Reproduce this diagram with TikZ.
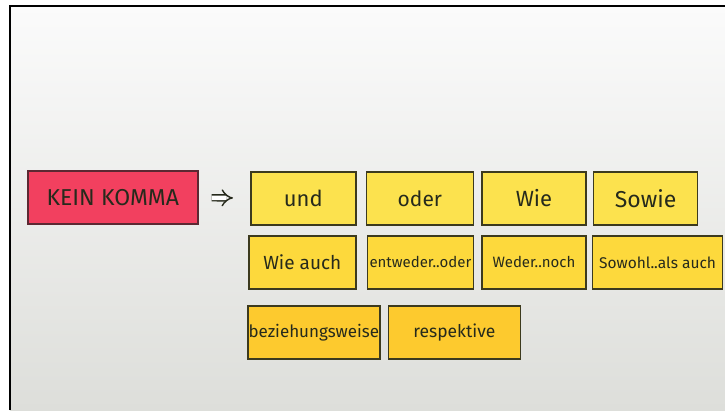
\documentclass[tikz,border=0pt]{standalone}
\usepackage{fontspec}
\setmainfont{Fira Sans}
\usepackage{xcolor}
\usetikzlibrary{positioning,arrows.meta}

\definecolor{boardtop}{HTML}{FBFBFB}
\definecolor{boardbottom}{HTML}{DDDEDA}
\definecolor{notered}{HTML}{F2405F}
\definecolor{noterededge}{HTML}{5C2832}
\definecolor{noteyellowA}{HTML}{FCE24E}
\definecolor{noteyellowB}{HTML}{FDD93C}
\definecolor{noteyellowC}{HTML}{FDCA2E}
\definecolor{noteedge}{HTML}{3C3A1E}
\definecolor{ink}{HTML}{262A1C}

\begin{document}
\begin{tikzpicture}[x=1pt, y=-1pt,
    textsize/.style = {font=\fontsize{#1}{#1}\selectfont},
    note/.style = {draw=noteedge, line width=1.6pt, fill=noteyellowA, text=ink,
                   minimum height=53pt, inner sep=0pt, textsize=21},
    rowtwo/.style = {fill=noteyellowB},
    rowthree/.style = {fill=noteyellowC},
    implies/.style = {double, double distance=4.5pt, line width=1.4pt,
                      draw=ink, -{Implies}},
  ]
  \useasboundingbox (0,0) rectangle (725,410);

  % board
  \shade[top color=boardtop, bottom color=boardbottom] (10,6) rectangle (725,410);
  \draw[line width=2.2pt] (10,410) -- (10,6) -- (725,6);

  \node[note, fill=notered, draw=noterededge, minimum width=170pt, anchor=north west,
        textsize=23] (kein) at (27,170) {KEIN KOMMA};

  % first row
  \node[note, minimum width=105pt, anchor=north west, textsize=22] (und) at (250,171) {und};
  \node[note, minimum width=107pt, right=9pt of und] (oder) {oder};
  \node[note, minimum width=104pt, right=7pt of oder, textsize=22] (wie) {Wie};
  \node[note, minimum width=104pt, right=6pt of wie, textsize=23] (sowie) {Sowie};

  % second row
  \node[note, rowtwo, minimum width=107pt, anchor=north west, textsize=19] (wieauch) at (248,235) {Wie auch};
  \node[note, rowtwo, textsize=15, minimum width=106pt, right=10pt of wieauch] (entweder) {entweder..oder};
  \node[note, rowtwo, textsize=15, minimum width=104pt, right=7pt of entweder] (weder) {Weder..noch};
  \node[note, rowtwo, textsize=15.5, minimum width=130pt, right=5pt of weder] (sowohl) {Sowohl..als auch};

  % third row
  \node[note, rowthree, textsize=17, minimum width=132pt, anchor=north west] (bzw) at (247,305) {beziehungsweise};
  \node[note, rowthree, textsize=17.5, minimum width=132pt, right=7pt of bzw] (resp) {respektive};

  \draw[implies, shorten <=13pt, shorten >=17pt] (kein) -- (und);
\end{tikzpicture}
\end{document}
